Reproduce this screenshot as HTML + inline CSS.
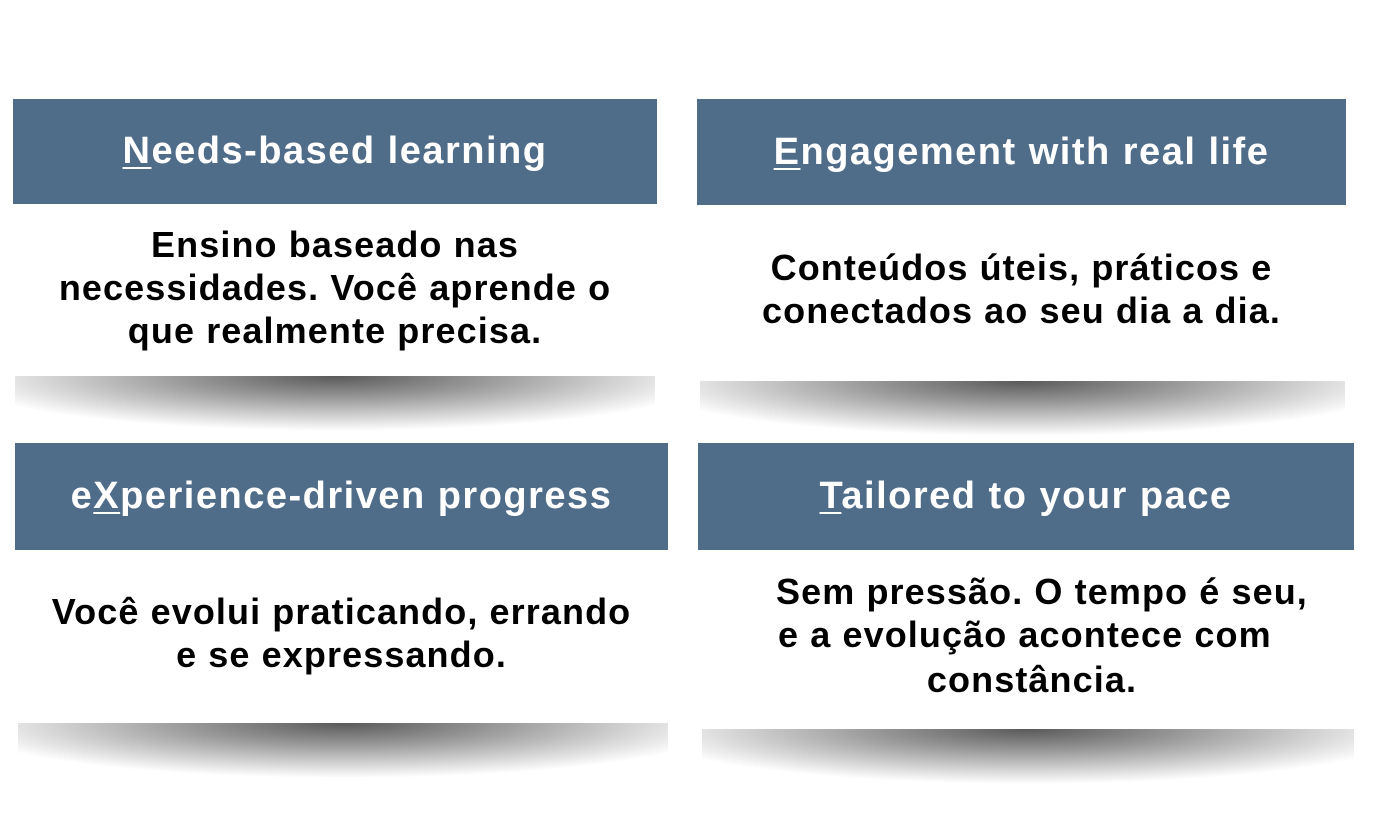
<!DOCTYPE html>
<html><head><meta charset="utf-8"><style>
html,body{margin:0;padding:0;background:#fff;}
body{width:1373px;height:838px;position:relative;overflow:hidden;font-family:"Liberation Sans",Arial,sans-serif;font-weight:bold;}
.h{position:absolute;background:#4f6c89;color:#fff;font-size:38px;letter-spacing:1.5px;display:flex;align-items:center;justify-content:center;}
.h u{text-decoration-thickness:2px;text-underline-offset:4px;}
.t{position:absolute;color:#000;font-size:36px;letter-spacing:1.1px;text-align:center;white-space:nowrap;line-height:43px;}
.s{position:absolute;height:55px;background:radial-gradient(ellipse 60% 100% at 50% 0%,rgba(0,0,0,0.65) 0%,rgba(0,0,0,0.4) 40%,rgba(0,0,0,0) 100%);}
</style></head><body>
<div class="h" style="left:13px;top:99px;width:644px;height:105px;"><span><u>N</u>eeds-based learning</span></div>
<div class="h" style="left:697px;top:99px;width:649px;height:106px;"><span><u>E</u>ngagement with real life</span></div>
<div class="h" style="left:15px;top:443px;width:653px;height:107px;"><span>e<u>X</u>perience-driven progress</span></div>
<div class="h" style="left:698px;top:443px;width:656px;height:107px;"><span><u>T</u>ailored to your pace</span></div>

<div class="t" style="left:13px;width:644px;top:223px;">Ensino baseado nas<br>necessidades. Você aprende o<br>que realmente precisa.</div>
<div class="t" style="left:697px;width:649px;top:246px;">Conteúdos úteis, práticos e<br>conectados ao seu dia a dia.</div>
<div class="t" style="left:15px;width:653px;top:590px;">Você evolui praticando, errando<br>e se expressando.</div>
<div class="t" style="left:776px;top:570px;text-align:left;">Sem pressão. O tempo é seu,</div>
<div class="t" style="left:778px;top:613px;text-align:left;">e a evolução acontece com</div>
<div class="t" style="left:698px;width:668px;top:658px;">constância.</div>

<div class="s" style="left:15px;width:640px;top:376px;"></div>
<div class="s" style="left:700px;width:645px;top:381px;"></div>
<div class="s" style="left:18px;width:650px;top:723px;"></div>
<div class="s" style="left:702px;width:652px;top:729px;"></div>
</body></html>
